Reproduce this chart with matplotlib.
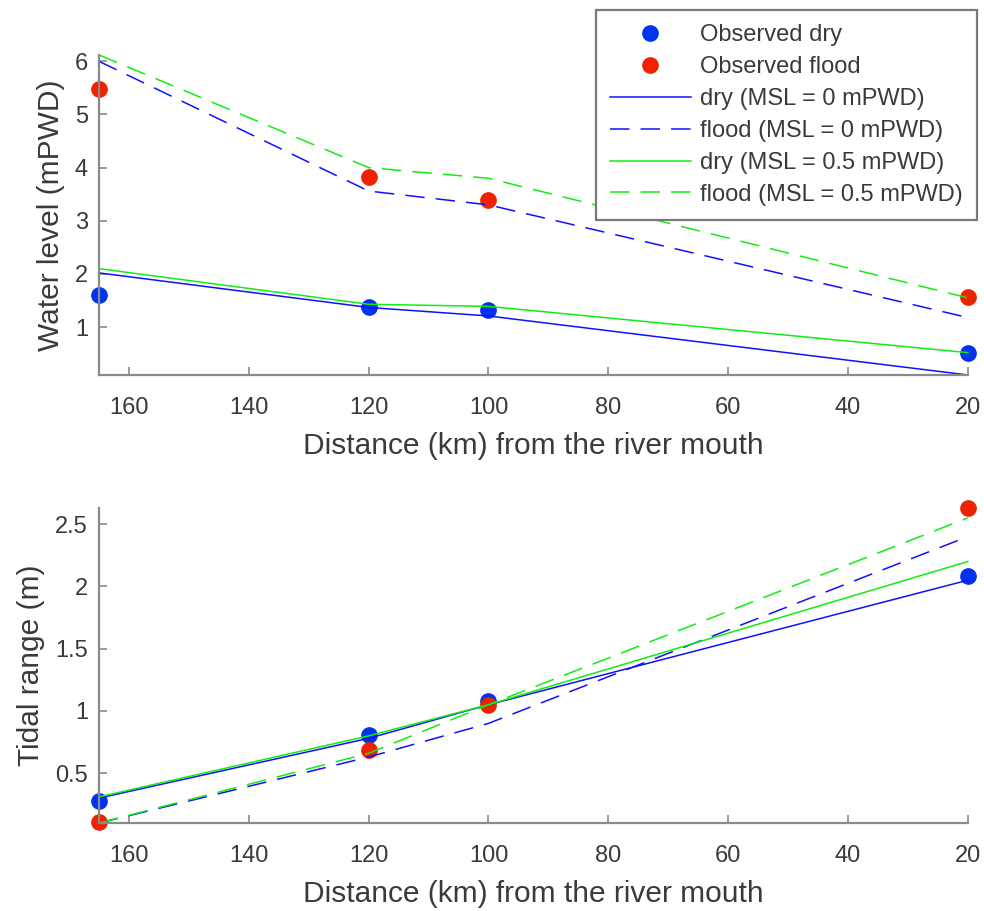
import matplotlib
matplotlib.use("Agg")
import matplotlib.pyplot as plt
from matplotlib.ticker import FormatStrFormatter

plt.rcParams['font.family'] = ['Liberation Sans', 'DejaVu Sans']
plt.rcParams['lines.scale_dashes'] = False

# distances (km) from the river mouth
dist = [165, 120, 100, 20]

# water level (mPWD)
wl_obs_dry = [1.60, 1.38, 1.33, 0.52]
wl_obs_flood = [5.47, 3.82, 3.40, 1.57]
wl_dry_msl0 = [2.02, 1.37, 1.21, 0.10]
wl_flood_msl0 = [6.00, 3.56, 3.30, 1.18]
wl_dry_msl05 = [2.10, 1.43, 1.39, 0.52]
wl_flood_msl05 = [6.12, 4.00, 3.80, 1.55]

# tidal range (m)
tr_obs_dry = [0.28, 0.81, 1.08, 2.08]
tr_obs_flood = [0.11, 0.69, 1.05, 2.63]
tr_dry_msl0 = [0.30, 0.78, 1.05, 2.05]
tr_flood_msl0 = [0.10, 0.63, 0.90, 2.40]
tr_dry_msl05 = [0.31, 0.80, 1.05, 2.20]
tr_flood_msl05 = [0.10, 0.66, 1.05, 2.55]

xticks = [160, 140, 120, 100, 80, 60, 40, 20]
wl_yticks = [1, 2, 3, 4, 5, 6]
tr_yticks = [0.5, 1, 1.5, 2, 2.5]

AX_GREY = '#8a8a8a'
TXT = '#3a3a3a'
DASH = (0, (14, 8))


def draw_panel(ax, obs_dry, obs_flood, dry0, flood0, dry05, flood05, ylabel, yticks):
    ax.plot(dist, obs_dry, 'o', color='#0033ee', markersize=11, label='Observed dry')
    ax.plot(dist, obs_flood, 'o', color='#ee2200', markersize=11, label='Observed flood')
    ax.plot(dist, dry0, '-', color='#1010ff', lw=1.1, label='dry (MSL = 0 mPWD)')
    ax.plot(dist, flood0, linestyle=DASH, color='#1010ff', lw=1.1, label='flood (MSL = 0 mPWD)')
    ax.plot(dist, dry05, '-', color='#10ee10', lw=1.1, label='dry (MSL = 0.5 mPWD)')
    ax.plot(dist, flood05, linestyle=DASH, color='#10ee10', lw=1.1, label='flood (MSL = 0.5 mPWD)')

    allv = obs_dry + obs_flood + dry0 + flood0 + dry05 + flood05
    ax.set_xlim(165, 20)
    ax.set_ylim(min(allv), max(allv))
    ax.set_xticks(xticks)
    ax.set_yticks(yticks)
    ax.yaxis.set_major_formatter(FormatStrFormatter('%g'))
    ax.set_xlabel('Distance (km) from the river mouth', fontsize=21.5, color=TXT, labelpad=9)
    ax.set_ylabel(ylabel, fontsize=21.5, color=TXT, labelpad=7)
    for s in ['top', 'right']:
        ax.spines[s].set_visible(False)
    for s in ['left', 'bottom']:
        ax.spines[s].set_color(AX_GREY)
        ax.spines[s].set_linewidth(1.6)
    ax.tick_params(direction='in', length=6, width=1.2, color=AX_GREY,
                   labelsize=17, labelcolor=TXT)
    ax.tick_params(axis='x', pad=16)
    ax.tick_params(axis='y', pad=8)
    for line in ax.lines:
        line.set_clip_on(False)


fig = plt.figure(figsize=(9.84, 9.11), dpi=100)
ax1 = fig.add_axes([0.1006, 0.5884, 0.883, 0.3513])
ax2 = fig.add_axes([0.1006, 0.0966, 0.883, 0.3458])

draw_panel(ax1, wl_obs_dry, wl_obs_flood, wl_dry_msl0, wl_flood_msl0,
           wl_dry_msl05, wl_flood_msl05, 'Water level (mPWD)', wl_yticks)
draw_panel(ax2, tr_obs_dry, tr_obs_flood, tr_dry_msl0, tr_flood_msl0,
           tr_dry_msl05, tr_flood_msl05, 'Tidal range (m)', tr_yticks)

leg = ax1.legend(loc='upper right', bbox_to_anchor=(977 / 984, 1 - 10 / 911),
                 bbox_transform=fig.transFigure, fontsize=17, fancybox=False,
                 framealpha=1, edgecolor='#7a7a7a', handlelength=3.4,
                 borderpad=0.6, labelspacing=0.42, handletextpad=0.4,
                 borderaxespad=0)
leg.get_frame().set_linewidth(1.6)
for t in leg.get_texts():
    t.set_color(TXT)

fig.savefig('out.png', dpi=100)
